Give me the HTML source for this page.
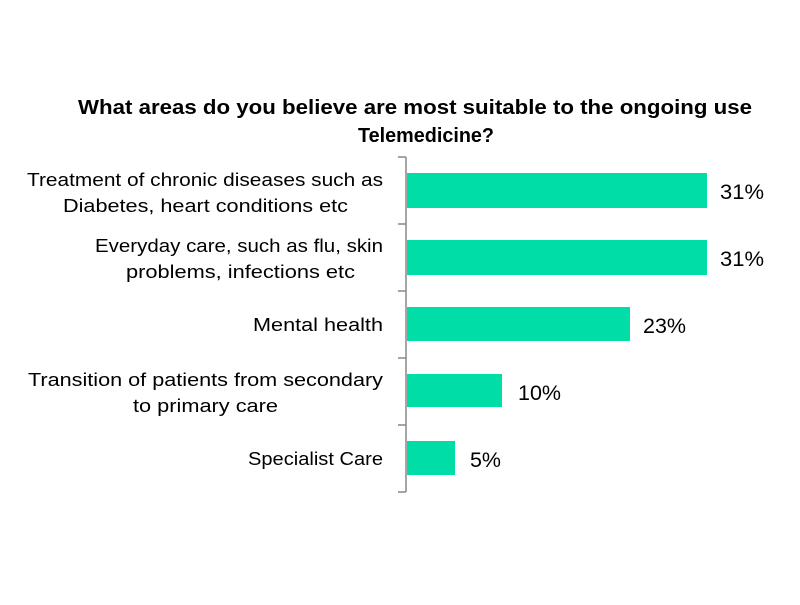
<!DOCTYPE html>
<html><head><style>body{margin:0;background:#fff}</style></head><body>
<svg width="800" height="600" xmlns="http://www.w3.org/2000/svg" style="font-family:'Liberation Sans',sans-serif">
<text x="78" y="114" textLength="674" lengthAdjust="spacingAndGlyphs" font-size="20" font-weight="bold" fill="#000">What areas do you believe are most suitable to the ongoing use</text>
<text x="358" y="142" textLength="136" lengthAdjust="spacingAndGlyphs" font-size="20" font-weight="bold" fill="#000">Telemedicine?</text>
<g fill="#00DDA6">
<rect x="407" y="173" width="300" height="35"/>
<rect x="407" y="240" width="300" height="35"/>
<rect x="407" y="307" width="223" height="34"/>
<rect x="407" y="374" width="95" height="33"/>
<rect x="407" y="441" width="48" height="34"/>
</g>
<g stroke="#888" stroke-width="1.5">
<line x1="406" y1="157" x2="406" y2="492"/>
<line x1="398" y1="157" x2="406" y2="157"/>
<line x1="398" y1="224" x2="406" y2="224"/>
<line x1="398" y1="291" x2="406" y2="291"/>
<line x1="398" y1="358" x2="406" y2="358"/>
<line x1="398" y1="425" x2="406" y2="425"/>
<line x1="398" y1="492" x2="406" y2="492"/>
</g>
<g font-size="21" fill="#000">
<text x="720" y="199" textLength="44" lengthAdjust="spacingAndGlyphs">31%</text>
<text x="720" y="266" textLength="44" lengthAdjust="spacingAndGlyphs">31%</text>
<text x="643" y="333" textLength="43" lengthAdjust="spacingAndGlyphs">23%</text>
<text x="518" y="400" textLength="43" lengthAdjust="spacingAndGlyphs">10%</text>
<text x="470" y="467" textLength="31" lengthAdjust="spacingAndGlyphs">5%</text>
</g>
<g font-size="18" fill="#000">
<text x="27" y="186" textLength="356" lengthAdjust="spacingAndGlyphs">Treatment of chronic diseases such as</text>
<text x="63" y="212" textLength="285" lengthAdjust="spacingAndGlyphs">Diabetes, heart conditions etc</text>
<text x="95" y="252" textLength="288" lengthAdjust="spacingAndGlyphs">Everyday care, such as flu, skin</text>
<text x="126" y="278" textLength="229" lengthAdjust="spacingAndGlyphs">problems, infections etc</text>
<text x="253" y="331" textLength="130" lengthAdjust="spacingAndGlyphs">Mental health</text>
<text x="28" y="386" textLength="355" lengthAdjust="spacingAndGlyphs">Transition of patients from secondary</text>
<text x="133" y="412" textLength="145" lengthAdjust="spacingAndGlyphs">to primary care</text>
<text x="248" y="465" textLength="135" lengthAdjust="spacingAndGlyphs">Specialist Care</text>
</g>
</svg>
</body></html>
